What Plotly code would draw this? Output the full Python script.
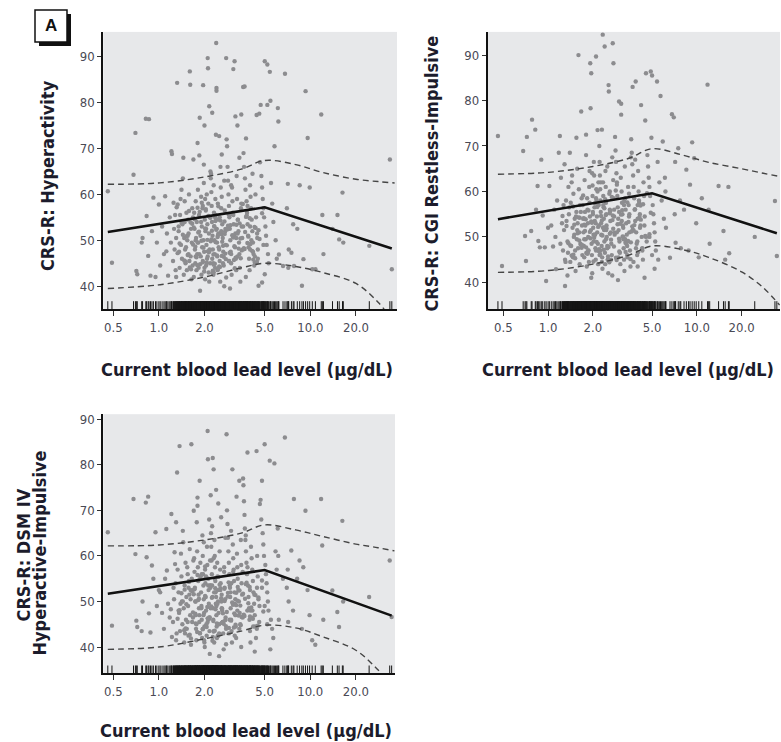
import plotly.graph_objects as go

# Current blood lead level (ug/dL) of each child, shared by all three outcome panels
lead = [
    0.46, 0.49,
    0.68, 0.70, 0.71, 0.72, 0.77, 0.78,
    0.82, 0.83, 0.85, 0.86, 0.88, 0.90, 0.92, 0.95, 0.97, 1.00,
    1.02, 1.05, 1.08, 1.10, 1.12, 1.13, 1.15, 1.18, 1.20, 1.21,
    1.22, 1.24, 1.25, 1.26, 1.27, 1.28, 1.29, 1.30, 1.30, 1.31,
    1.32, 1.33, 1.35, 1.36, 1.37, 1.38, 1.40, 1.41, 1.42, 1.43,
    1.45, 1.46, 1.47, 1.48, 1.50, 1.51, 1.52, 1.53, 1.55, 1.56,
    1.57, 1.58, 1.60, 1.61, 1.62, 1.63, 1.64, 1.65, 1.66, 1.67,
    1.35, 1.44, 1.49, 1.54, 1.59, 1.68, 1.69, 1.70, 1.39, 1.57,
    1.71, 1.72, 1.73, 1.74, 1.75, 1.76, 1.77, 1.78, 1.79, 1.80,
    1.81, 1.82, 1.83, 1.84, 1.85, 1.86, 1.87, 1.88, 1.89, 1.90,
    1.91, 1.92, 1.93, 1.94, 1.95, 1.96, 1.97, 1.98, 1.99, 2.00,
    2.01, 2.02, 2.03, 2.04, 2.05, 2.06, 2.07, 2.08, 2.09, 2.10,
    2.11, 2.12, 2.13, 2.14, 2.15, 2.16, 2.17, 2.18, 2.19, 2.20,
    1.75, 1.85, 1.95, 2.00, 2.05, 1.80, 1.90, 2.10, 2.15, 1.98,
    2.21, 2.22, 2.23, 2.24, 2.25, 2.26, 2.27, 2.28, 2.29, 2.30,
    2.31, 2.32, 2.33, 2.34, 2.35, 2.36, 2.37, 2.38, 2.39, 2.40,
    2.41, 2.42, 2.43, 2.44, 2.45, 2.46, 2.47, 2.48, 2.50, 2.52,
    2.54, 2.56, 2.58, 2.60, 2.62, 2.64, 2.66, 2.68, 2.70, 2.72,
    2.74, 2.76, 2.78, 2.80, 2.25, 2.30, 2.35, 2.40, 2.45, 2.50,
    2.55, 2.60, 2.65, 2.70, 2.75,
    2.82, 2.84, 2.86, 2.88, 2.90, 2.92, 2.94, 2.96, 2.98, 3.00,
    3.02, 3.04, 3.06, 3.08, 3.10, 3.12, 3.14, 3.16, 3.18, 3.20,
    3.22, 3.24, 3.26, 3.28, 3.30, 3.32, 3.35, 3.38, 3.40, 3.42,
    3.45, 3.48, 3.50, 3.52, 3.55, 3.58, 3.60, 2.90, 3.00, 3.10,
    3.20, 3.30, 3.40, 3.50, 2.95,
    3.62, 3.65, 3.68, 3.70, 3.73, 3.76, 3.79, 3.82, 3.85, 3.88,
    3.91, 3.94, 3.97, 4.00, 4.03, 4.06, 4.10, 4.14, 4.18, 4.22,
    4.26, 4.30, 4.34, 4.38, 4.42, 4.46, 4.50, 4.55, 4.60, 3.75,
    3.85, 4.00, 4.15, 4.30, 4.45,
    4.65, 4.70, 4.75, 4.80, 4.85, 4.90, 4.95, 5.00, 5.05, 5.10,
    5.15, 5.20, 5.25, 5.30, 5.40, 5.50, 5.60, 5.70, 5.80, 5.90,
    6.00, 4.80, 5.00, 5.20, 5.45,
    6.10, 6.15, 6.80, 7.10, 7.00, 7.70, 7.20, 7.50, 6.20, 6.60, 7.15, 7.80,
    8.2, 8.5, 8.8, 9.0, 9.3, 9.6, 9.9, 10.3, 10.8,
    11.8, 12.0, 12.2, 14.0, 15.1, 15.5,
    16.3, 16.5, 24.5,
    33.5, 34.5,
    # children in the dense central cluster
    1.33, 1.41, 1.47, 1.52, 1.58, 1.63, 1.68, 1.72, 1.77, 1.82,
    1.87, 1.92, 1.97, 2.02, 2.07, 2.12, 2.17, 2.22, 2.27, 2.32,
    2.37, 2.42, 2.47, 2.53, 2.59, 2.65, 2.71, 2.77, 2.85, 2.93,
    3.01, 3.09, 3.17, 3.25, 3.36, 3.47, 3.58, 3.71, 3.84, 3.98,
    4.12, 4.28, 4.44, 4.62, 4.80, 1.44, 1.55, 1.66, 1.79, 1.91,
    2.04, 2.14, 2.24, 2.34, 2.44, 2.55, 2.68, 2.81, 2.97, 3.13,
    3.31, 3.52, 3.76, 4.02, 4.35, 1.50, 1.62, 1.74, 1.86, 1.99,
    2.09, 2.19, 2.29, 2.39, 2.50, 2.62, 2.74, 2.89, 3.05, 3.21,
    3.41, 3.64, 3.90, 4.20, 4.55, 1.37, 1.60, 1.84, 2.10, 2.36,
    2.60, 2.86, 3.15, 3.45, 3.80, 4.18, 1.70, 1.95, 2.20, 2.46,
    2.72, 3.00, 3.32, 3.68, 4.08, 4.50, 4.90, 1.80, 2.30, 2.58,
    2.90, 3.24, 3.60, 4.00, 1.48, 1.75, 2.02, 2.26, 2.52, 2.78,
]

# CRS-R Hyperactivity T-scores
hyperactivity = [
    60.7, 45.1,
    64.3, 73.4, 43.3, 42.6, 49.5, 50.5,
    76.5, 55.3, 46.6, 76.4, 42.3, 52.0, 59.3, 42.0, 49.5, 57.8,
    44.5, 53.0, 47.0, 59.6, 47.6, 51.5, 42.3, 55.0, 49.5, 69.4,
    68.8, 45.5, 58.2, 52.5, 48.0, 55.5, 43.5, 42.0, 50.5, 57.2,
    84.3, 57.8, 52.0, 47.5, 44.0, 55.5, 49.0, 61.0, 46.0, 53.5,
    68.0, 42.5, 50.5, 58.5, 45.0, 48.5, 56.0, 43.5, 51.0, 54.5,
    47.0, 60.0, 86.8, 83.9, 46.5, 52.5, 41.5, 49.5, 57.0, 44.5,
    53.0, 63.5, 48.0, 50.0, 45.5, 55.0, 67.6, 42.0, 59.0, 51.5,
    56.0, 52.5, 48.0, 45.0, 58.5, 50.5, 43.5, 54.0, 47.0, 71.2,
    61.0, 49.5, 44.0, 55.5, 68.5, 76.7, 39.0, 51.0, 46.5, 59.5,
    42.5, 53.0, 48.5, 57.0, 45.5, 83.8, 50.0, 62.5, 47.5, 75.0,
    54.5, 41.5, 52.0, 56.5, 44.5, 49.0, 60.0, 46.0, 53.5, 89.7,
    87.5, 58.0, 43.0, 51.5, 79.2, 48.0, 55.0, 45.0, 65.0, 63.5,
    50.0, 47.0, 57.5, 44.0, 52.5, 49.5, 54.0, 46.5, 41.0, 66.5,
    64.5, 60.5, 57.5, 54.0, 77.8, 51.0, 48.0, 45.0, 42.5, 62.0,
    56.0, 53.0, 50.0, 47.0, 44.0, 59.0, 55.5, 73.0, 93.0, 82.6,
    52.5, 49.5, 46.5, 43.5, 58.0, 54.5, 51.5, 48.5, 72.7, 45.5,
    41.0, 61.5, 57.0, 68.7, 53.5, 50.5, 47.5, 44.5, 63.0, 56.5,
    52.0, 49.0, 89.7, 72.0, 46.0, 43.0, 55.0, 83.2, 51.0, 48.0,
    66.0, 59.5, 45.0, 40.0, 52.5,
    70.5, 66.0, 63.0, 60.0, 57.5, 55.0, 52.5, 50.0, 47.5, 45.0,
    42.5, 61.5, 58.5, 56.0, 87.3, 53.5, 51.0, 89.0, 48.5, 77.0,
    46.0, 43.5, 64.0, 59.0, 75.0, 54.5, 52.0, 49.5, 47.0, 44.0,
    41.0, 57.0, 77.4, 53.0, 50.5, 48.0, 83.4, 45.5, 62.0, 55.5,
    51.5, 46.5, 68.0, 58.0, 39.5,
    69.0, 66.0, 83.5, 63.5, 61.0, 72.2, 58.5, 56.0, 53.5, 51.0,
    48.5, 46.0, 43.5, 62.0, 59.5, 57.0, 54.5, 52.0, 49.5, 47.0,
    44.5, 45.2, 60.0, 55.0, 77.3, 50.5, 48.0, 40.1, 77.6, 42.0,
    57.5, 53.0, 64.5, 46.5, 51.5,
    67.0, 79.5, 64.0, 61.5, 59.0, 57.0, 55.0, 89.0, 53.0, 51.0,
    49.0, 88.3, 47.0, 45.0, 86.7, 62.5, 58.0, 54.0, 70.5, 50.0,
    46.0, 40.8, 42.6, 79.5, 80.4,
    78.8, 75.9, 86.3, 62.3, 57.0, 53.5, 48.0, 47.3, 46.9, 44.4, 44.0, 44.4,
    52.5, 62.0, 40.1, 45.9, 82.5, 72.3, 61.5, 43.7, 43.7,
    77.4, 55.5, 47.0, 52.5, 55.5, 50.2,
    60.4, 49.5, 48.8,
    67.6, 43.7,
    47.2, 53.8, 45.6, 50.9, 56.4, 43.7, 49.1, 54.6, 46.3, 51.7,
    44.8, 58.2, 48.4, 52.6, 45.1, 55.3, 47.9, 50.2, 43.4, 53.1,
    49.6, 46.7, 57.4, 44.2, 51.3, 48.8, 54.1, 45.9, 52.4, 47.3,
    55.7, 50.6, 43.9, 53.4, 48.2, 46.1, 57.9, 51.8, 49.4, 54.8,
    47.7, 52.9, 45.3, 50.3, 55.9, 51.2, 46.8, 53.6, 44.6, 49.9,
    56.8, 47.4, 52.1, 44.9, 50.7, 54.3, 46.4, 48.9, 53.3, 45.7,
    51.5, 47.8, 55.1, 49.2, 52.7, 45.4, 53.9, 48.6, 56.2, 43.2,
    50.1, 54.9, 46.9, 52.3, 44.3, 49.7, 47.1, 55.6, 51.1, 46.2,
    53.7, 48.3, 50.8, 45.8, 52.2, 49.3, 44.1, 51.9, 47.6, 54.2,
    46.6, 53.2, 48.7, 50.4, 55.4, 47.5, 52.8, 45.2, 49.8, 43.8,
    51.4, 47.0, 54.5, 48.1, 50.0, 46.0, 49.0, 57.1, 44.7, 52.0,
    45.5, 50.5, 53.0, 48.0, 54.0, 46.5, 59.0, 42.8, 55.0, 41.9,
]

# CRS-R CGI Restless-Impulsive T-scores
restless = [
    72.2, 43.6,
    68.9, 50.2, 44.7, 72.0, 51.3, 75.8,
    73.6, 56.0, 61.2, 49.1, 47.7, 67.0, 54.7, 47.7, 40.3, 52.0,
    61.2, 52.5, 47.9, 56.0, 50.0, 42.9, 58.0, 68.5, 72.2, 48.5,
    63.0, 53.0, 54.6, 47.0, 57.0, 51.5, 66.0, 45.0, 39.2, 44.5,
    58.0, 53.5, 49.0, 46.5, 61.0, 55.0, 68.5, 44.5, 57.5, 48.0,
    63.5, 52.0, 45.5, 59.5, 50.5, 54.0, 47.0, 42.5, 71.8, 49.5,
    65.0, 53.0, 90.0, 60.5, 51.0, 44.0, 57.0, 48.5, 55.5, 77.6,
    41.5, 62.0, 50.0, 54.5, 47.5, 58.5, 52.5, 46.0, 56.5, 51.5,
    57.0, 54.0, 51.0, 48.0, 45.5, 62.5, 55.5, 52.5, 49.5, 72.5,
    46.5, 43.5, 58.5, 56.0, 53.0, 50.0, 47.0, 44.5, 61.0, 57.5,
    54.5, 88.2, 78.3, 51.5, 86.0, 48.5, 46.0, 42.0, 59.0, 55.0,
    52.0, 49.0, 66.5, 63.5, 56.5, 53.5, 50.5, 47.5, 45.0, 89.7,
    60.5, 58.0, 54.5, 51.0, 73.5, 48.5, 44.0, 62.0, 57.0, 52.5,
    49.5, 46.5, 41.0, 55.5, 50.5, 68.0, 64.5, 47.0, 60.0, 64.0,
    70.0, 66.5, 63.5, 60.5, 58.0, 55.5, 53.0, 50.5, 48.0, 73.6,
    45.5, 43.0, 94.5, 62.0, 59.0, 56.5, 54.0, 51.5, 49.0, 91.9,
    46.5, 44.0, 64.5, 61.0, 57.5, 55.0, 52.5, 50.0, 47.5, 45.0,
    42.0, 82.0, 59.5, 56.0, 53.5, 51.0, 48.5, 46.0, 67.5, 92.6,
    62.5, 58.5, 54.5, 50.5, 47.0, 44.5, 57.0, 52.0, 49.5, 65.5,
    83.4, 60.0, 45.0, 41.5, 88.2,
    72.0, 69.0, 66.5, 64.0, 61.5, 59.0, 56.5, 54.0, 51.5, 79.8,
    49.0, 46.5, 44.0, 63.0, 79.3, 60.0, 57.5, 55.0, 52.5, 50.0,
    47.5, 45.0, 42.5, 65.5, 58.5, 56.0, 53.0, 50.5, 48.0, 45.5,
    61.0, 57.0, 54.5, 51.0, 47.0, 43.5, 67.5, 62.0, 55.5, 76.9,
    52.0, 49.5, 46.0, 59.5, 40.5,
    71.5, 68.5, 66.0, 83.0, 63.5, 61.0, 58.5, 56.0, 53.5, 84.2,
    51.0, 48.5, 46.0, 43.5, 64.5, 60.0, 57.5, 55.0, 52.5, 79.0,
    50.0, 47.5, 45.0, 62.0, 59.0, 54.5, 75.6, 86.0, 49.0, 44.5,
    67.0, 57.0, 52.0, 47.0, 41.0,
    68.0, 65.5, 63.0, 61.0, 59.0, 86.4, 71.8, 85.5, 57.0, 55.0,
    53.0, 51.0, 49.0, 47.0, 84.2, 45.0, 62.0, 81.0, 58.0, 71.0,
    54.0, 50.0, 46.0, 43.0, 66.5,
    63.0, 60.0, 77.0, 55.0, 76.3, 58.0, 48.7, 69.5, 52.0, 45.4, 66.5, 47.5,
    56.0, 64.8, 47.0, 61.5, 70.8, 67.3, 53.0, 45.5, 58.5,
    83.5, 56.0, 48.5, 61.2, 51.3, 45.0,
    61.0, 46.4, 50.0,
    57.9, 45.8,
    52.4, 48.1, 56.7, 45.3, 50.8, 54.2, 47.6, 59.1, 51.3, 46.4,
    55.8, 49.7, 53.1, 44.6, 57.4, 48.9, 52.2, 46.0, 54.6, 50.3,
    47.2, 58.3, 51.9, 45.7, 55.2, 49.4, 53.7, 47.9, 60.2, 52.8,
    46.8, 54.9, 50.1, 57.9, 48.5, 53.3, 45.1, 51.6, 56.1, 49.0,
    54.4, 47.4, 52.5, 59.6, 50.6, 45.9, 55.5, 48.3, 53.9, 51.1,
    49.8, 56.6, 46.2, 52.0, 54.8, 47.8, 58.8, 50.9, 45.5, 53.5,
    48.7, 55.0, 51.4, 46.6, 57.2, 52.7, 49.2, 54.1, 47.0, 61.3,
    53.0, 46.9, 50.4, 56.3, 48.0, 55.7, 51.8, 44.9, 52.9, 49.5,
    57.6, 51.2, 47.5, 53.8, 50.0, 48.6, 54.3, 46.3, 58.5, 52.1,
    50.7, 45.4, 55.9, 49.1, 52.6, 56.9, 48.2, 53.4, 47.3, 51.5,
    54.7, 49.6, 46.7, 52.3, 58.0, 50.2, 55.3, 47.7, 53.6, 44.4,
    51.0, 57.0, 48.8, 54.0, 46.1, 52.7, 50.5, 62.0, 45.0, 56.0,
]

# CRS-R DSM IV Hyperactive-Impulsive T-scores
dsm = [
    65.2, 44.7,
    72.5, 60.4, 45.8, 44.4, 43.5, 50.0,
    71.7, 59.7, 73.0, 47.4, 43.2, 57.9, 55.0, 65.2, 49.0, 52.5,
    52.0, 47.5, 44.0, 55.0, 65.9, 56.8, 49.5, 46.5, 48.3, 69.2,
    42.2, 45.5, 53.0, 50.5, 60.8, 58.2, 54.0, 67.4, 41.5, 43.0,
    78.3, 57.0, 52.0, 47.5, 84.1, 43.5, 60.5, 55.5, 50.0, 45.0,
    63.0, 48.5, 41.0, 53.5, 58.5, 46.0, 51.0, 44.0, 56.0, 49.0,
    42.5, 54.5, 61.5, 47.0, 50.5, 40.5, 84.5, 55.0, 45.5, 52.5,
    48.0, 65.5, 43.0, 57.5, 51.5, 46.5, 59.0, 69.9, 49.5, 53.0,
    59.5, 56.5, 53.0, 50.0, 47.0, 44.0, 41.5, 67.4, 61.0, 72.8,
    57.5, 54.5, 51.5, 48.5, 45.5, 76.5, 43.0, 58.5, 55.5, 52.0,
    49.0, 46.0, 42.0, 64.5, 60.0, 56.0, 53.5, 50.5, 47.5, 44.5,
    40.0, 57.0, 54.0, 51.0, 48.0, 45.0, 42.5, 62.0, 58.0, 87.4,
    81.2, 55.0, 52.5, 49.5, 46.5, 43.5, 38.5, 59.0, 53.0, 73.3,
    50.0, 47.0, 44.0, 41.0, 55.5, 71.0, 48.5, 45.5, 68.0, 63.0,
    65.0, 62.0, 59.0, 56.0, 53.5, 51.0, 81.5, 48.5, 46.0, 79.0,
    43.5, 41.0, 63.5, 60.0, 57.5, 54.5, 52.0, 49.5, 74.5, 47.0,
    44.5, 42.0, 58.5, 55.5, 52.5, 50.0, 71.5, 47.5, 45.0, 61.0,
    57.0, 54.0, 68.5, 51.5, 48.0, 45.5, 43.0, 39.5, 56.5, 53.0,
    50.5, 46.5, 44.0, 86.7, 66.5, 59.5, 55.0, 49.0, 42.5, 38.0,
    52.5, 48.5, 45.5, 57.5, 64.0,
    70.0, 67.0, 64.0, 61.0, 58.5, 56.0, 53.5, 51.0, 48.5, 46.0,
    43.5, 41.0, 79.0, 62.5, 59.5, 57.0, 54.5, 52.0, 49.5, 47.0,
    44.5, 42.0, 73.0, 60.5, 57.5, 55.0, 52.5, 50.0, 76.5, 47.5,
    45.0, 63.5, 58.0, 54.0, 51.5, 46.5, 77.0, 43.0, 65.5, 56.5,
    50.5, 48.0, 44.0, 40.0, 53.0,
    75.5, 72.0, 69.0, 66.0, 63.5, 61.0, 58.5, 56.0, 82.7, 53.5,
    51.0, 48.5, 46.0, 43.5, 41.0, 62.0, 59.5, 57.0, 54.5, 52.0,
    49.5, 47.0, 44.5, 42.0, 83.0, 60.0, 55.5, 50.5, 45.5, 64.5,
    57.5, 52.5, 48.0, 39.0, 53.0,
    71.4, 72.3, 68.0, 76.5, 65.0, 62.5, 60.0, 84.5, 58.0, 56.0,
    54.0, 52.0, 50.0, 48.0, 80.9, 46.0, 44.0, 42.0, 80.3, 61.0,
    57.0, 53.0, 49.0, 45.0, 39.5,
    66.0, 60.0, 86.0, 57.0, 53.0, 48.0, 50.0, 61.2, 46.0, 55.0, 45.5, 72.5,
    55.0, 59.0, 44.0, 57.5, 69.9, 52.5, 47.0, 41.5, 40.5,
    72.5, 62.3, 46.0, 52.4, 47.7, 44.4,
    67.7, 50.0, 51.0,
    59.0, 46.6,
    46.2, 51.8, 43.7, 49.4, 54.3, 41.9, 47.6, 52.7, 45.0, 50.3,
    43.1, 56.0, 47.0, 51.2, 44.4, 53.5, 46.5, 48.9, 42.2, 52.0,
    48.3, 45.2, 55.4, 42.8, 50.0, 47.4, 52.8, 44.6, 51.1, 46.0,
    54.0, 49.3, 42.5, 51.9, 46.9, 44.8, 56.5, 50.6, 48.0, 53.2,
    46.4, 51.5, 44.0, 49.0, 54.6, 50.0, 45.5, 52.2, 43.3, 48.6,
    55.2, 46.1, 50.8, 43.6, 49.5, 52.9, 45.1, 47.7, 52.0, 44.3,
    50.2, 46.6, 53.8, 48.0, 51.4, 44.1, 52.5, 47.3, 54.9, 41.5,
    48.8, 53.6, 45.7, 51.0, 43.0, 48.4, 45.9, 54.2, 49.8, 44.9,
    52.4, 47.1, 49.6, 44.5, 50.9, 48.1, 42.7, 50.6, 46.3, 52.9,
    45.3, 51.9, 47.4, 49.1, 54.1, 46.2, 51.6, 43.9, 48.5, 42.4,
    50.1, 45.8, 53.2, 46.8, 48.7, 44.7, 47.8, 55.8, 43.4, 50.7,
    44.2, 49.2, 51.7, 46.7, 52.6, 45.2, 57.7, 41.4, 53.7, 40.6,
]

assert len(lead) == len(hyperactivity) == len(restless) == len(dsm)

# Piecewise-linear fit (knot at 5 ug/dL)
knot_x = [0.46, 5.0, 34.5]
fit_hyper = [51.8, 57.2, 48.2]
fit_restless = [53.9, 59.6, 50.8]
fit_dsm = [51.7, 56.9, 46.9]

# 95% confidence band
band_x = [0.46, 1.0, 2.0, 3.5, 5.0, 8.0, 12.0, 20.0, 28.0, 36.0]
hyper_hi = [62.2, 62.5, 63.8, 65.5, 67.4, 66.5, 64.8, 63.3, 62.8, 62.5]
hyper_lo = [39.5, 40.3, 42.0, 44.0, 45.0, 44.3, 43.0, 40.6, 36.5, 32.0]
restless_hi = [63.8, 64.2, 65.5, 67.3, 69.4, 68.0, 66.4, 65.0, 64.0, 63.3]
restless_lo = [42.2, 42.6, 44.0, 46.0, 48.0, 47.2, 45.5, 42.3, 38.8, 35.0]
dsm_hi = [62.2, 62.4, 63.5, 65.0, 66.8, 65.7, 64.3, 62.6, 61.8, 61.1]
dsm_lo = [39.5, 40.0, 41.8, 43.5, 44.8, 44.2, 42.3, 39.3, 35.0, 31.0]

x_tick_vals = [0.5, 1, 2, 5, 10, 20]
x_tick_text = ["0.5", "1.0", "2.0", "5.0", "10.0", "20.0"]
y_tick_vals = [40, 50, 60, 70, 80, 90]

x_title = "Current blood lead level (μg/dL)"

W, H = 781, 742
FONT = "DejaVu Sans Condensed, Liberation Sans Narrow, Arial Narrow, sans-serif"


def px_x(p):
    return p / W


def px_y(p):
    return 1 - p / H


panels = [
    dict(y=hyperactivity, fit=fit_hyper, hi=hyper_hi, lo=hyper_lo,
         xr=(-0.367, 1.572), yr=(35.0, 95.4), xpx=(103.3, 397), ypx=(30, 308)),
    dict(y=restless, fit=fit_restless, hi=restless_hi, lo=restless_lo,
         xr=(-0.406, 1.559), yr=(34.1, 95.1), xpx=(487.7, 780), ypx=(30, 308)),
    dict(y=dsm, fit=fit_dsm, hi=dsm_hi, lo=dsm_lo,
         xr=(-0.367, 1.560), yr=(34.2, 91.1), xpx=(103.3, 395), ypx=(413.3, 673.3)),
]

fig = go.Figure()

for i, p in enumerate(panels, start=1):
    sfx = "" if i == 1 else str(i)
    xa, ya = "x" + sfx, "y" + sfx

    # scatter of individual children
    fig.add_trace(go.Scatter(
        x=lead, y=p["y"], mode="markers", xaxis=xa, yaxis=ya,
        marker=dict(size=4.4, color="#8c8c8f", line=dict(width=0)),
        showlegend=False, hoverinfo="skip"))

    # rug of lead values along the bottom of the panel
    units_per_px = (p["yr"][1] - p["yr"][0]) / (p["ypx"][1] - p["ypx"][0])
    rug_top = p["yr"][0] + 8 * units_per_px
    rx, ry = [], []
    for v in lead:
        rx += [v, v, None]
        ry += [p["yr"][0], rug_top, None]
    fig.add_trace(go.Scatter(
        x=rx, y=ry, mode="lines", xaxis=xa, yaxis=ya,
        line=dict(color="#151515", width=1),
        showlegend=False, hoverinfo="skip"))

    # confidence limits
    for band in (p["hi"], p["lo"]):
        fig.add_trace(go.Scatter(
            x=band_x, y=band, mode="lines", xaxis=xa, yaxis=ya,
            line=dict(color="#454545", width=1.4, dash="6px,4px", shape="spline"),
            showlegend=False, hoverinfo="skip"))

    # fitted piecewise line
    fig.add_trace(go.Scatter(
        x=knot_x, y=p["fit"], mode="lines", xaxis=xa, yaxis=ya,
        line=dict(color="#111111", width=2.6),
        showlegend=False, hoverinfo="skip"))

    fig.layout["xaxis" + sfx] = dict(
        type="log", range=list(p["xr"]),
        domain=[px_x(p["xpx"][0]), px_x(p["xpx"][1])], anchor=ya,
        showline=True, linecolor="#111111", linewidth=2,
        ticks="outside", ticklen=5, tickwidth=1, tickcolor="#333333",
        tickvals=x_tick_vals, ticktext=x_tick_text,
        tickfont=dict(family=FONT, size=13, color="#4a4a55"),
        showgrid=False, zeroline=False)
    fig.layout["yaxis" + sfx] = dict(
        range=list(p["yr"]),
        domain=[px_y(p["ypx"][1]), px_y(p["ypx"][0])], anchor=xa,
        showline=True, linecolor="#111111", linewidth=2,
        ticks="outside", ticklen=4, tickwidth=1, tickcolor="#333333",
        tickvals=y_tick_vals,
        tickfont=dict(family=FONT, size=13, color="#4a4a55"),
        showgrid=False, zeroline=False)

title_font = dict(family=FONT, size=18, color="#1c1c2c", weight="bold")
annotations = [
    dict(text="CRS-R: Hyperactivity", x=px_x(47.5), y=px_y(174), textangle=-90),
    dict(text="CRS-R: CGI Restless-Impulsive", x=px_x(432), y=px_y(172), textangle=-90),
    dict(text="CRS-R: DSM IV", x=px_x(24), y=px_y(555), textangle=-90),
    dict(text="Hyperactive-Impulsive", x=px_x(40), y=px_y(553), textangle=-90),
    dict(text=x_title, x=px_x(247), y=px_y(368)),
    dict(text=x_title, x=px_x(628), y=px_y(368)),
    dict(text=x_title, x=px_x(246), y=px_y(730)),
    dict(text="A", x=px_x(51), y=px_y(24), font=dict(family="Liberation Sans, Arial, sans-serif",
                                                      size=17, color="#111111", weight="bold")),
]
for a in annotations:
    a.update(xref="paper", yref="paper", showarrow=False,
             xanchor="center", yanchor="middle")
    a.setdefault("font", title_font)

# panel label box with drop shadow
shapes = [
    dict(type="rect", xref="paper", yref="paper",
         x0=px_x(39), x1=px_x(71), y0=px_y(44), y1=px_y(12),
         fillcolor="#111111", line=dict(width=0)),
    dict(type="rect", xref="paper", yref="paper",
         x0=px_x(35), x1=px_x(67), y0=px_y(40), y1=px_y(8),
         fillcolor="white", line=dict(color="#111111", width=1.5)),
]

fig.update_layout(
    width=W, height=H, margin=dict(l=0, r=0, t=0, b=0),
    paper_bgcolor="white", plot_bgcolor="#e7e8ea",
    annotations=annotations, shapes=shapes, showlegend=False)

fig.write_html("out.html")
